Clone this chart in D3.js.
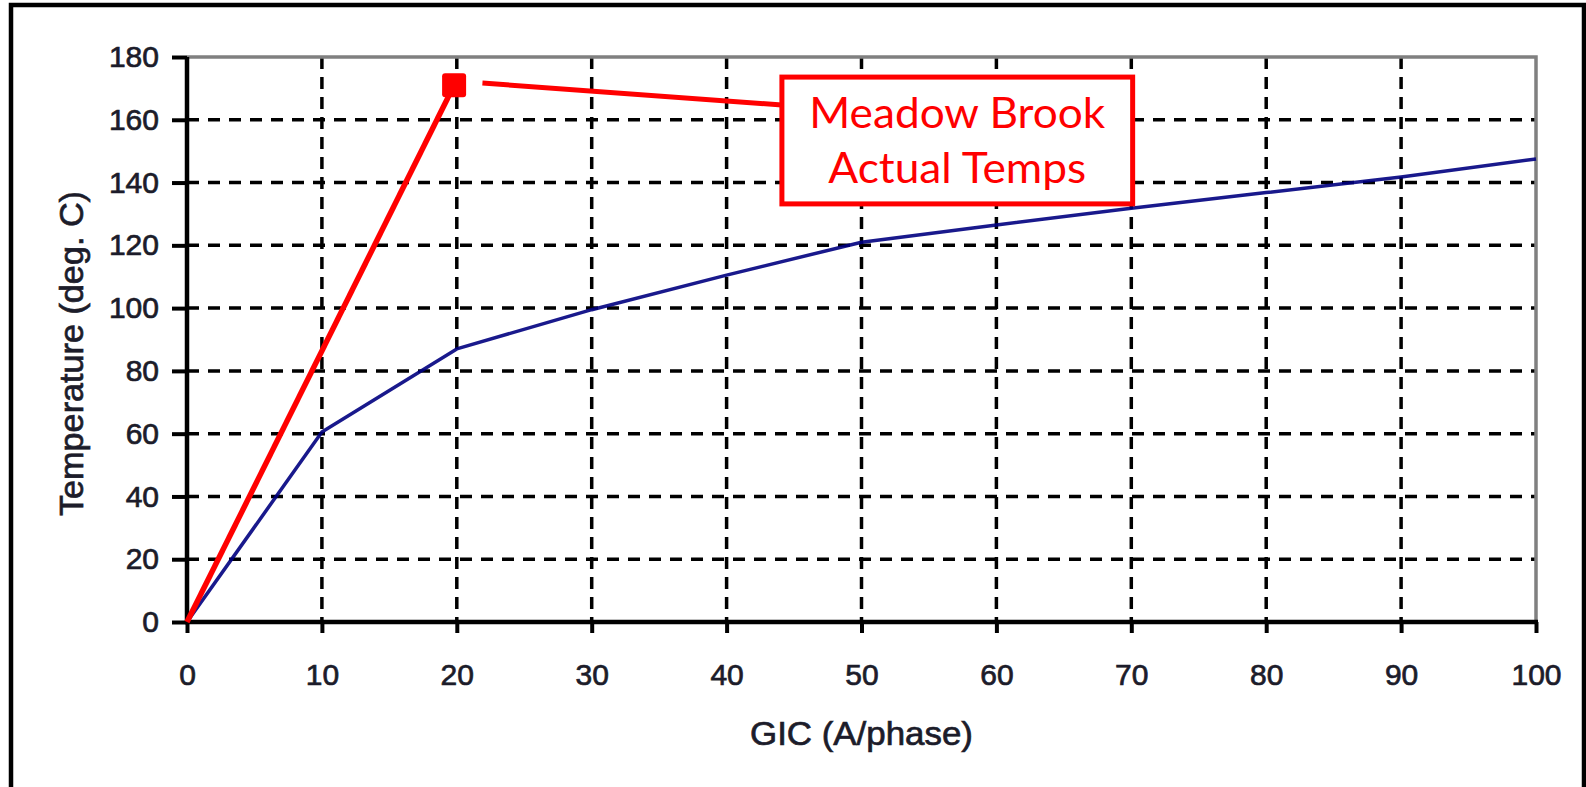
<!DOCTYPE html>
<html>
<head>
<meta charset="utf-8">
<script src="https://cdn.jsdelivr.net/npm/d3@7"></script>
<style>
  html, body { margin: 0; padding: 0; background: #fff; }
  svg { display: block; }
</style>
</head>
<body>
<svg id="chart" width="1586" height="787"></svg>
<script>
// ---- data ----
const gic = [0, 10, 20, 30, 40, 50, 60, 70, 80, 90, 100];
const temps = [0, 60.5, 87, 99.5, 110.5, 121, 126.5, 131.8, 136.8, 141.8, 147.5];
const actualGic = [0, 19.8];
const actualTemps = [0, 171];
const xTicks = [0, 10, 20, 30, 40, 50, 60, 70, 80, 90, 100];
const yTicks = [0, 20, 40, 60, 80, 100, 120, 140, 160, 180];
const xTitle = "GIC (A/phase)";
const yTitle = "Temperature (deg. C)";
const noteLines = ["Meadow Brook", "Actual Temps"];
// annotation box & leader (data units)
const noteBox = { x0: 44.1, x1: 70.1, y0: 133.2, y1: 173.6 };
const leader = [[21.9, 171.7], [44.1, 164.7]];

// ---- layout ----
const svg = d3.select("#chart");
const x = d3.scaleLinear().domain([0, 100]).range([187, 1536]);
const y = d3.scaleLinear().domain([0, 180]).range([622, 57]);
const FONT = "'Liberation Sans', Arial, Helvetica, sans-serif";
const TXT = "#1c1c2a";

// outer frame (top, left, right)
svg.append("path")
  .attr("d", "M11,800 L11,5 L1584,5 L1584,800")
  .attr("fill", "none").attr("stroke", "#000").attr("stroke-width", 4.5);

// grid
const grid = svg.append("g");
grid.selectAll("line.vg").data(xTicks.filter(d => d > 0 && d < 100)).join("line")
  .attr("x1", d => x(d)).attr("x2", d => x(d))
  .attr("y1", y(180)).attr("y2", y(0))
  .attr("stroke", "#000").attr("stroke-width", 3.5).attr("stroke-dasharray", "12,8");
grid.selectAll("line.hg").data(yTicks.filter(d => d > 0 && d < 180)).join("line")
  .attr("x1", x(0)).attr("x2", x(100))
  .attr("y1", d => y(d)).attr("y2", d => y(d))
  .attr("stroke", "#000").attr("stroke-width", 3.5).attr("stroke-dasharray", "12,9");

// plot border (gray top & right)
svg.append("path")
  .attr("d", `M${x(0)},${y(180)} L${x(100)},${y(180)} L${x(100)},${y(0)}`)
  .attr("fill", "none").attr("stroke", "#808080").attr("stroke-width", 3.5);

// blue series
const pts = gic.map((g, i) => [g, temps[i]]);
svg.append("path")
  .datum(pts)
  .attr("d", d3.line().x(d => x(d[0])).y(d => y(d[1])))
  .attr("fill", "none").attr("stroke", "#000080").attr("stroke-width", 3.5)
  .attr("stroke-opacity", 0.9)
  .attr("stroke-linejoin", "round");

// axes
const xAxis = svg.append("g").attr("transform", `translate(0,${y(0)})`)
  .call(d3.axisBottom(x).tickValues(xTicks).tickSize(11).tickSizeOuter(0).tickPadding(31));
const yAxis = svg.append("g").attr("transform", `translate(${x(0)},0)`)
  .call(d3.axisLeft(y).tickValues(yTicks).tickSize(15).tickSizeOuter(0).tickPadding(13));
[xAxis, yAxis].forEach(a => {
  a.select(".domain").attr("stroke", "#000").attr("stroke-width", 4.5);
  a.selectAll(".tick line").attr("stroke", "#000").attr("stroke-width", 4);
  a.selectAll(".tick text").attr("fill", TXT).attr("font-family", FONT)
    .attr("font-size", 30).attr("stroke", TXT).attr("stroke-width", 0.7);
});
// extend domains to cover line ends
xAxis.select(".domain").attr("d", `M${x(0) - 2},0H${x(100) + 2}`);
yAxis.select(".domain").attr("d", `M0,${y(180)}V${y(0) + 2}`);

// axis titles
svg.append("text")
  .attr("x", (x(0) + x(100)) / 2).attr("y", 745)
  .attr("text-anchor", "middle").attr("font-family", FONT).attr("font-size", 34)
  .attr("fill", TXT).attr("stroke", TXT).attr("stroke-width", 0.7)
  .attr("textLength", 223).attr("lengthAdjust", "spacingAndGlyphs")
  .text(xTitle);
svg.append("text")
  .attr("transform", `translate(83,${(y(0) + y(180)) / 2 + 14}) rotate(-90)`)
  .attr("text-anchor", "middle").attr("font-family", FONT).attr("font-size", 34)
  .attr("fill", TXT).attr("stroke", TXT).attr("stroke-width", 0.7)
  .attr("textLength", 325).attr("lengthAdjust", "spacingAndGlyphs")
  .text(yTitle);

// red "actual" line and marker
const act = actualGic.map((g, i) => [g, actualTemps[i]]);
svg.append("path")
  .datum(act)
  .attr("d", d3.line().x(d => x(d[0])).y(d => y(d[1])))
  .attr("fill", "none").attr("stroke", "#ff0000").attr("stroke-width", 5.5);
svg.selectAll("rect.mk").data(act.slice(1)).join("rect")
  .attr("x", d => x(d[0]) - 12).attr("y", d => y(d[1]) - 12)
  .attr("width", 24).attr("height", 24).attr("rx", 3)
  .attr("fill", "#ff0000");

// leader line
svg.append("path")
  .datum(leader)
  .attr("d", d3.line().x(d => x(d[0])).y(d => y(d[1])))
  .attr("fill", "none").attr("stroke", "#ff0000").attr("stroke-width", 5);

// annotation box
svg.append("rect")
  .attr("x", x(noteBox.x0)).attr("y", y(noteBox.y1))
  .attr("width", x(noteBox.x1) - x(noteBox.x0))
  .attr("height", y(noteBox.y0) - y(noteBox.y1))
  .attr("fill", "#fff").attr("stroke", "#ff0000").attr("stroke-width", 5);
const cx = (x(noteBox.x0) + x(noteBox.x1)) / 2;
const noteLens = [296, 258];
const noteBase = [128, 183];
svg.selectAll("text.note").data(noteLines).join("text")
  .attr("x", cx).attr("y", (d, i) => noteBase[i])
  .attr("text-anchor", "middle")
  .attr("font-family", "Lato, 'Open Sans', sans-serif").attr("font-size", 43)
  .attr("fill", "#ff0000")
  .attr("textLength", (d, i) => noteLens[i]).attr("lengthAdjust", "spacingAndGlyphs")
  .text(d => d);
</script>
</body>
</html>
